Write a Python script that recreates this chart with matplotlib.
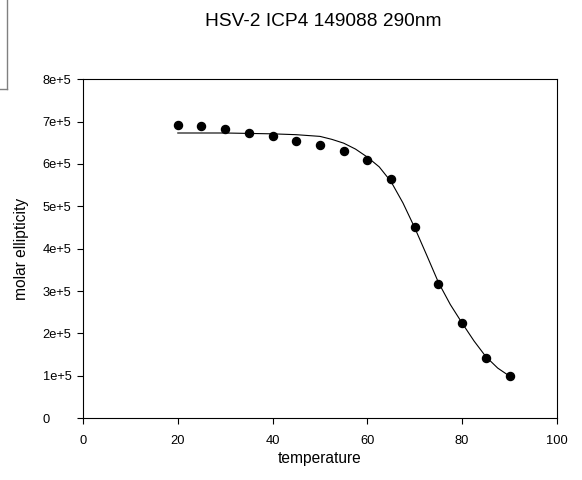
import matplotlib
matplotlib.use("Agg")
import matplotlib.pyplot as plt
from matplotlib.lines import Line2D

plt.rcParams['font.family'] = ['Liberation Sans', 'DejaVu Sans']

# measured points
temperature = [20, 25, 30, 35, 40, 45, 50, 55, 60, 65, 70, 75, 80, 85, 90]
ellipticity = [6.93e5, 6.90e5, 6.82e5, 6.73e5, 6.67e5, 6.53e5, 6.44e5, 6.30e5,
               6.09e5, 5.64e5, 4.51e5, 3.16e5, 2.25e5, 1.43e5, 0.99e5]

# fitted curve
fit_t = [20, 30, 40, 45, 50, 52.5, 55, 57.5, 60, 62.5, 65, 67.5, 70, 72.5, 75,
         77.5, 80, 82.5, 85, 87.5, 90]
fit_v = [6.73e5, 6.73e5, 6.71e5, 6.69e5, 6.65e5, 6.58e5, 6.49e5, 6.35e5,
         6.16e5, 5.93e5, 5.58e5, 5.08e5, 4.49e5, 3.85e5, 3.20e5, 2.68e5,
         2.24e5, 1.82e5, 1.45e5, 1.18e5, 0.99e5]

x_ticks = [0, 20, 40, 60, 80, 100]
y_ticks = [0, 1e5, 2e5, 3e5, 4e5, 5e5, 6e5, 7e5, 8e5]
y_labels = ['0', '1e+5', '2e+5', '3e+5', '4e+5', '5e+5', '6e+5', '7e+5', '8e+5']

fig = plt.figure(figsize=(5.82, 4.8), dpi=100)
ax = fig.add_axes([0.1426, 0.129, 0.8144, 0.706])

ax.plot(fit_t, fit_v, color='black', lw=0.8)
ax.plot(temperature, ellipticity, 'o', color='black', markersize=5.8)

ax.set_xlim(0, 100)
ax.set_ylim(0, 8e5)
ax.set_xticks(x_ticks)
ax.set_xticklabels([str(t) for t in x_ticks])
ax.set_yticks(y_ticks)
ax.set_yticklabels(y_labels)
for lab in ax.get_yticklabels():
    lab.set_horizontalalignment('left')

ax.tick_params(axis='both', direction='out', length=4, width=0.8, labelsize=9.3)
ax.tick_params(axis='x', pad=8)
ax.tick_params(axis='y', pad=25)
for s in ax.spines.values():
    s.set_linewidth(0.8)

ax.set_xlabel('temperature', fontsize=11.2, labelpad=3)
ax.set_ylabel('molar ellipticity', fontsize=11.2, labelpad=10)
fig.text(0.555, 0.956, 'HSV-2 ICP4 149088 290nm', fontsize=13.8,
         ha='center', va='center')

# leftover frame in top-left corner
fig.add_artist(Line2D([7 / 582, 7 / 582], [1, 1 - 89 / 480], color='#808080', lw=1))
fig.add_artist(Line2D([0, 7 / 582], [1 - 89 / 480, 1 - 89 / 480], color='#808080', lw=1))

fig.savefig('out.png', dpi=100)
